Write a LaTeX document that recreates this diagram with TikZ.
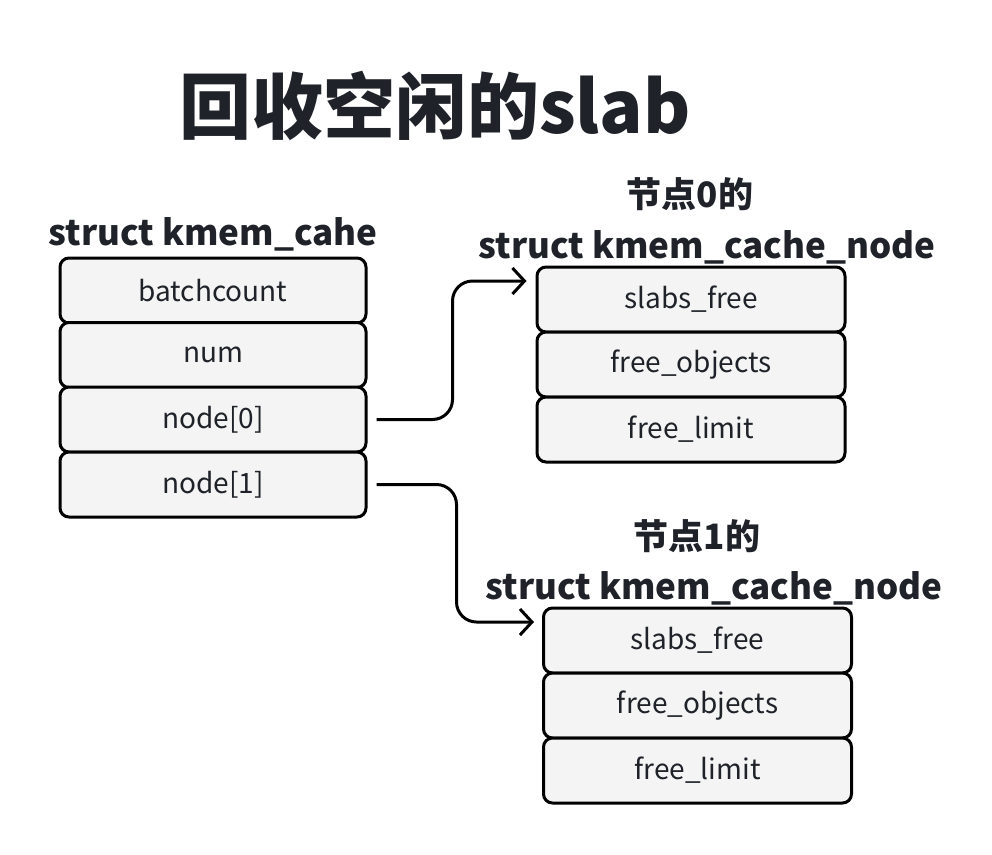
\documentclass[tikz,border=0pt]{standalone}
\usepackage{fontspec}
\setmainfont{Noto Sans CJK SC}
\usetikzlibrary{arrows.meta,calc}
\definecolor{ink}{HTML}{1F2329}
\definecolor{boxfill}{HTML}{F4F4F4}
\begin{document}
\begin{tikzpicture}[x=1pt,y=-1pt,
  field/.style={draw=black, fill=boxfill, line width=3pt, rounded corners=9pt,
    minimum width=306pt, minimum height=65pt, inner sep=0pt, text=ink,
    font=\fontsize{28}{32}\selectfont,
    execute at begin node={\lower2pt\hbox\bgroup},
    execute at end node={\egroup}},
  head/.style={text=ink, font=\fontsize{35}{40}\selectfont\bfseries, inner sep=0pt},
  arr/.style={line width=3pt, rounded corners=20pt,
    -{Straight Barb[length=12pt,width=26pt,line width=3pt]}}]
\useasboundingbox (0,0) rectangle (992,854);
\node[text=ink, font=\fontsize{72}{78}\selectfont\bfseries, inner sep=0pt] (title) at (435,106) {回收空闲的slab};
% left struct
\node[head] (lh) at (213,234.5) {struct kmem\_cahe};
\node[field] (l1) at (213,290.5) {batchcount};
\node[field] (l2) at (213,355) {num};
\node[field] (l3) at (213,419.5) {node[0]};
\node[field] (l4) at (213,484.5) {node[1]};
% upper right
\node[head] (uh0) at (690,194) {节点0的};
\node[head] (uh) at (707,247.5) {struct kmem\_cache\_node};
\node[field, minimum width=308pt] (u1) at (691,299.5) {slabs\_free};
\node[field, minimum width=308pt] (u2) at (691,364.5) {free\_objects};
\node[field, minimum width=308pt] (u3) at (691,429.5) {free\_limit};
% lower right
\node[head] (dh0) at (697,536) {节点1的};
\node[head] (dh) at (714,588.5) {struct kmem\_cache\_node};
\node[field, minimum width=308pt] (d1) at (697.5,640.5) {slabs\_free};
\node[field, minimum width=308pt] (d2) at (697.5,705.5) {free\_objects};
\node[field, minimum width=308pt] (d3) at (697.5,770.5) {free\_limit};
% connectors
\coordinate (s1) at ([xshift=9pt]l3.east);
\coordinate (t1) at ([xshift=-9pt,yshift=18.5pt]u1.west);
\coordinate (s2) at ([xshift=9pt]l4.east);
\coordinate (t2) at ([xshift=-8pt,yshift=18.5pt]d1.west);
\draw[arr] (s1) -- ++(76,0) |- (t1);
\draw[arr] (s2) -- ++(80,0) |- (t2);
\end{tikzpicture}
\end{document}
